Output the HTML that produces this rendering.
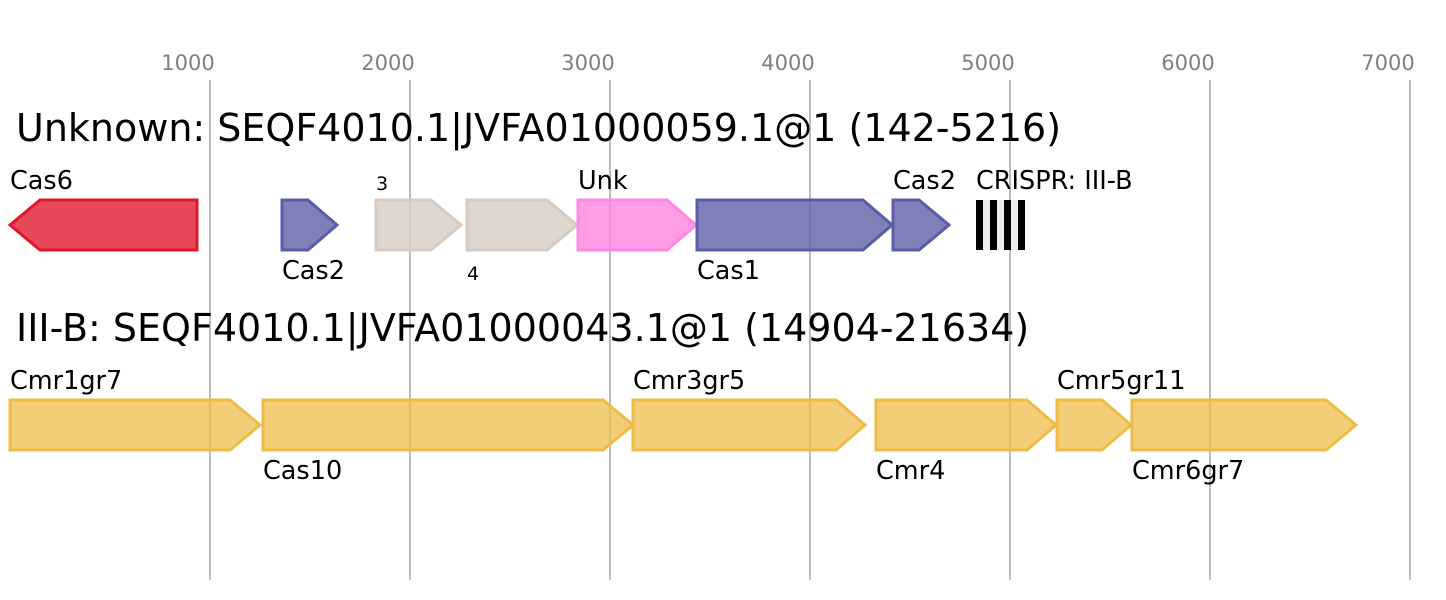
<!DOCTYPE html>
<html><head><meta charset="utf-8"><style>body{margin:0;background:#fff}svg{display:block;font-family:"DejaVu Sans","Liberation Sans",sans-serif}</style></head><body>
<svg width="1446" height="600" viewBox="0 0 1446 600">
<g stroke="#bdbdbd" stroke-width="2">
<line x1="210" y1="80" x2="210" y2="580"/><line x1="410" y1="80" x2="410" y2="580"/><line x1="610" y1="80" x2="610" y2="580"/><line x1="810" y1="80" x2="810" y2="580"/><line x1="1010" y1="80" x2="1010" y2="580"/><line x1="1210" y1="80" x2="1210" y2="580"/><line x1="1410" y1="80" x2="1410" y2="580"/>
</g>
<g fill="#808080" font-size="21" text-anchor="middle">
<text x="188" y="70">1000</text><text x="388" y="70">2000</text><text x="588" y="70">3000</text><text x="788" y="70">4000</text><text x="988" y="70">5000</text><text x="1188" y="70">6000</text><text x="1388" y="70">7000</text>
</g>
<g font-size="38" fill="#000">
<text x="16" y="141">Unknown: SEQF4010.1|JVFA01000059.1@1 (142-5216)</text>
<text x="16" y="341">III-B: SEQF4010.1|JVFA01000043.1@1 (14904-21634)</text>
</g>
<g stroke-width="3" fill-opacity="0.78">
<polygon points="197,200 40,200 10,225 40,250 197,250" fill="#e0162b" stroke="#e0162b"/>
<polygon points="282,200 308,200 337,225 308,250 282,250" fill="#5a5ca6" stroke="#5a5ca6"/>
<polygon points="376,200 431,200 461,225 431,250 376,250" fill="#d5cbc2" stroke="#d5cbc2"/>
<polygon points="467,200 547,200 577,225 547,250 467,250" fill="#d5cbc2" stroke="#d5cbc2"/>
<polygon points="578,200 667,200 696,225 667,250 578,250" fill="#ff80e0" stroke="#ff88e3"/>
<polygon points="697,200 863,200 892,225 863,250 697,250" fill="#5a5ca6" stroke="#5a5ca6"/>
<polygon points="893,200 919,200 949,225 919,250 893,250" fill="#5a5ca6" stroke="#5a5ca6"/>
</g>
<rect x="976" y="200" width="49" height="50" fill="#eee"/>
<g fill="#000"><rect x="976" y="200" width="7" height="50"/><rect x="990" y="200" width="7" height="50"/><rect x="1004" y="200" width="7" height="50"/><rect x="1018" y="200" width="7" height="50"/></g>
<g stroke-width="3" fill="#eebb44" fill-opacity="0.72" stroke="#eebb44">
<polygon points="10,400 230,400 260,425 230,450 10,450"/>
<polygon points="263,400 603,400 633,425 603,450 263,450"/>
<polygon points="633,400 836,400 865,425 836,450 633,450"/>
<polygon points="876,400 1027,400 1056,425 1027,450 876,450"/>
<polygon points="1057,400 1102,400 1131,425 1102,450 1057,450"/>
<polygon points="1132,400 1326,400 1356,425 1326,450 1132,450"/>
</g>
<g font-size="25.5" fill="#000">
<text x="10" y="189">Cas6</text><text x="282" y="279">Cas2</text><text x="376" y="190" font-size="19">3</text><text x="467" y="280" font-size="19">4</text><text x="578" y="189">Unk</text><text x="697" y="279">Cas1</text><text x="893" y="189">Cas2</text><text x="976" y="189">CRISPR: III-B</text>
<text x="10" y="389">Cmr1gr7</text><text x="263" y="479">Cas10</text><text x="633" y="389">Cmr3gr5</text><text x="876" y="479">Cmr4</text><text x="1057" y="389">Cmr5gr11</text><text x="1132" y="479">Cmr6gr7</text>
</g>
</svg>
</body></html>
